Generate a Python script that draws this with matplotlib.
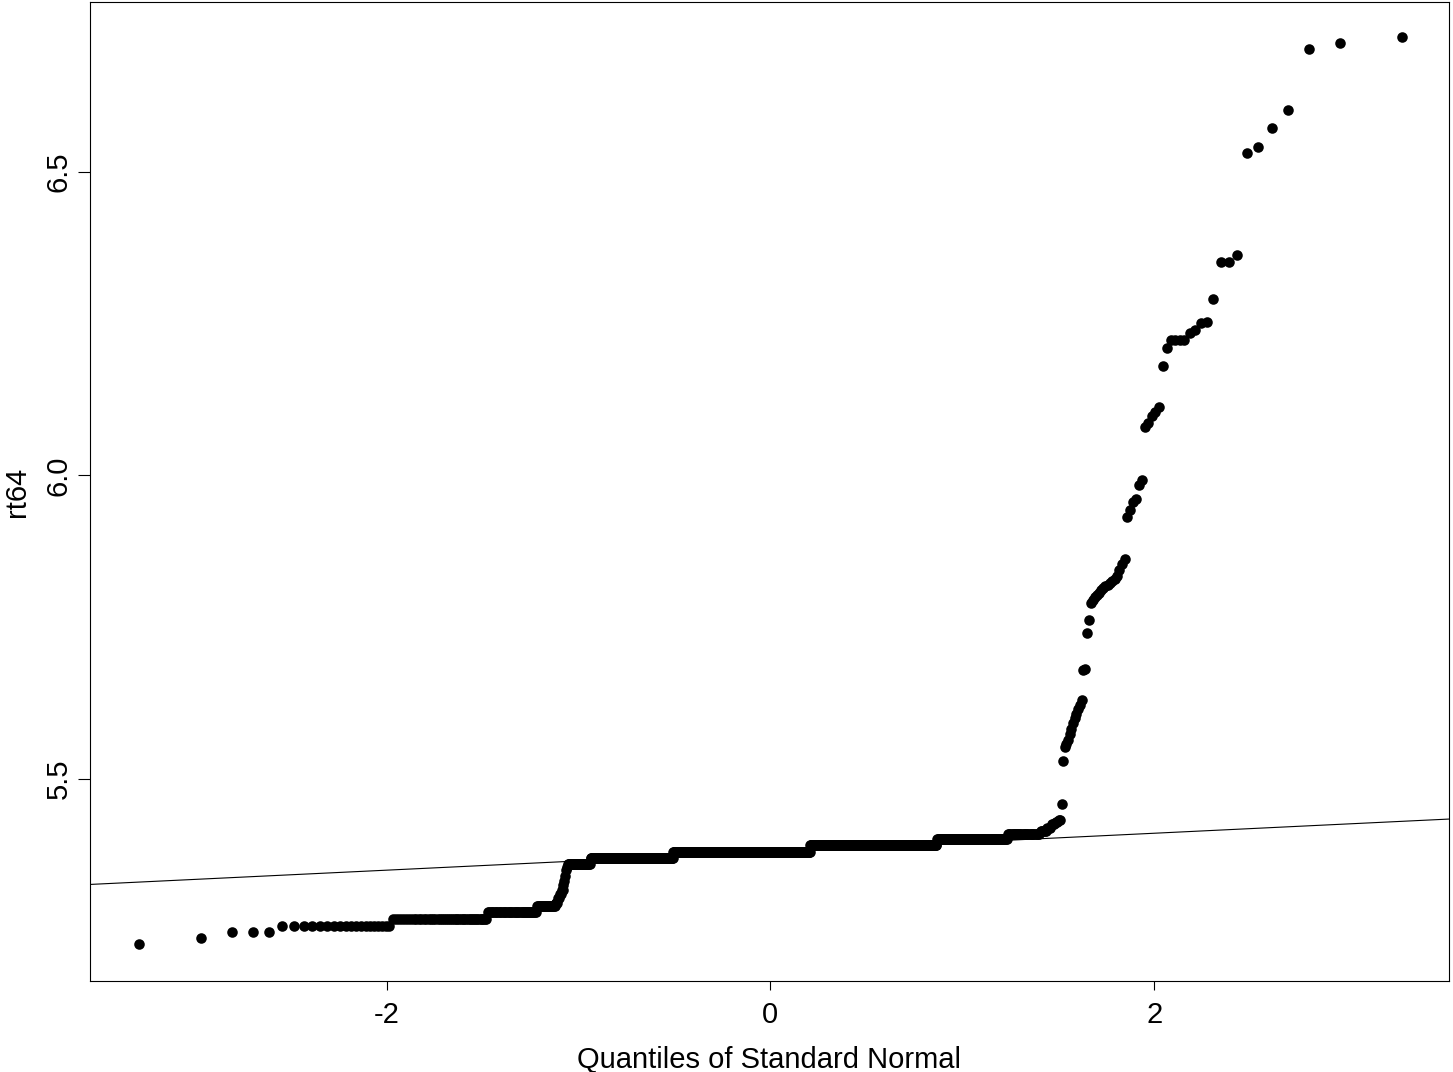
import numpy as np
import matplotlib
matplotlib.use('Agg')
from matplotlib import pyplot as plt
from statistics import NormalDist

# sorted sample values: plateaus (value, how many) then single points of the upper tail
plateau_values = [5.229, 5.239, 5.249, 5.259, 5.270, 5.282, 5.292, 5.297, 5.304, 5.311,
                  5.318, 5.326, 5.332, 5.340, 5.350, 5.355, 5.361, 5.3705, 5.380, 5.391,
                  5.401, 5.410, 5.415, 5.420, 5.426, 5.430, 5.433]
plateau_counts = [1, 1, 3, 19, 46, 42, 19, 3, 2, 2,
                  2, 1, 1, 1, 1, 1, 29, 132, 276, 225,
                  85, 28, 5, 3, 3, 2, 2]
tail_values = [5.459, 5.530, 5.553, 5.558, 5.565, 5.575, 5.583, 5.592, 5.600, 5.607,
               5.615, 5.622, 5.630, 5.680, 5.682, 5.741, 5.762, 5.790, 5.795, 5.800,
               5.803, 5.807, 5.812, 5.815, 5.818, 5.820, 5.823, 5.826, 5.830, 5.834,
               5.845, 5.855, 5.862, 5.931, 5.943, 5.957, 5.962, 5.985, 5.993, 6.080,
               6.087, 6.097, 6.105, 6.113, 6.180, 6.210, 6.223, 6.223, 6.223, 6.223,
               6.234, 6.240, 6.251, 6.252, 6.291, 6.352, 6.352, 6.363, 6.531, 6.541,
               6.572, 6.602, 6.702, 6.712, 6.722]

x_ticks = [-2, 0, 2]
x_ticklabels = ['-2', '0', '2']
y_ticks = [5.5, 6.0, 6.5]
y_ticklabels = ['5.5', '6.0', '6.5']

rt64 = np.sort(np.concatenate([np.repeat(plateau_values, plateau_counts), tail_values]))
n = len(rt64)
# ppoints + qnorm, as qqnorm does
nd = NormalDist()
theo = np.array([nd.inv_cdf((i - 0.5) / n) for i in range(1, n + 1)])

# qqline: through the quartiles
q1, q3 = np.quantile(rt64, [0.25, 0.75])
z1, z3 = nd.inv_cdf(0.25), nd.inv_cdf(0.75)
slope = (q3 - q1) / (z3 - z1)
inter = q1 - slope * z1

plt.rcParams['font.family'] = ['Liberation Sans', 'DejaVu Sans']
fig = plt.figure(figsize=(14.53, 10.72), dpi=100)
ax = fig.add_axes([0.0619, 0.0849, 0.9353, 0.9132])

ax.plot(theo, rt64, 'o', color='black', ms=7.6, mew=0)
ax.axline((0, inter), slope=slope, color='black', lw=0.8)

ax.set_xlim(-3.545, 3.535)
ax.set_ylim(5.168, 6.779)

ax.set_xticks(x_ticks)
ax.set_xticklabels(x_ticklabels)
ax.set_yticks(y_ticks)
ax.set_yticklabels(y_ticklabels, rotation=90, va='center')
ax.tick_params(axis='x', length=6.3, width=0.8, labelsize=21, pad=8)
ax.tick_params(axis='y', length=8.4, width=0.8, labelsize=21, pad=4)
for s in ax.spines.values():
    s.set_linewidth(0.8)

ax.set_xlabel('Quantiles of Standard Normal', fontsize=21, labelpad=12)
ax.set_ylabel('rt64', fontsize=21, labelpad=10)

fig.savefig('out.png', dpi=100)
